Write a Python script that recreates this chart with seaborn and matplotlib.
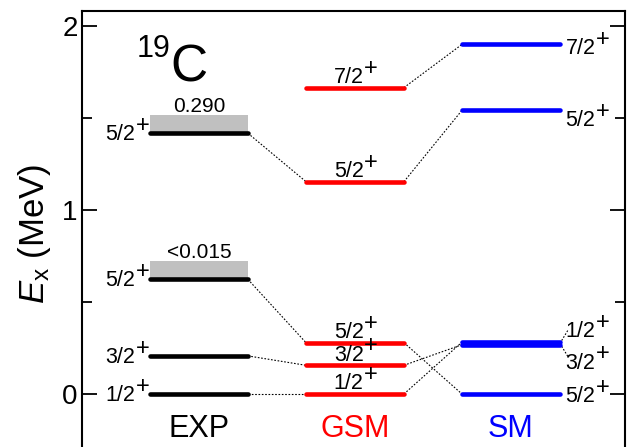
import numpy as np
import pandas as pd
import matplotlib
matplotlib.use('Agg')
import matplotlib.pyplot as plt
import seaborn as sns

# livelli (MeV)
models = ['EXP', 'GSM', 'SM']
exp_E = [0.0, 0.207, 0.623, 1.417]
exp_J = ['1/2', '3/2', '5/2', '5/2']
gsm_E = [0.0, 0.156, 0.279, 1.154, 1.665]
gsm_J = ['1/2', '3/2', '5/2', '5/2', '7/2']
sm_E = [0.0, 0.268, 0.282, 1.542, 1.900]
sm_J = ['5/2', '3/2', '1/2', '5/2', '7/2']

# larghezze sperimentali (box grigi)
box_level = [2, 3]
box_height = [0.10, 0.10]
box_text = ['<0.015', '0.290']

# collegamenti (indice livello sinistro -> indice livello destro)
links_exp_gsm = [(0, 0), (1, 1), (2, 2), (3, 3)]
links_gsm_sm = [(0, 2), (1, 1), (2, 0), (3, 3), (4, 4)]

colors = {'EXP': 'black', 'GSM': '#ff0000', 'SM': '#0000ff'}
HW = 0.314  # mezza larghezza di un livello

sns.set_style('ticks', {'axes.edgecolor': 'black', 'text.color': 'black',
                        'xtick.color': 'black', 'ytick.color': 'black',
                        'axes.labelcolor': 'black'})
plt.rcParams['font.family'] = ['Liberation Sans', 'DejaVu Sans']
plt.rcParams['mathtext.fontset'] = 'custom'
plt.rcParams['mathtext.rm'] = 'Liberation Sans'
plt.rcParams['mathtext.it'] = 'Liberation Sans:italic'

energies = {'EXP': exp_E, 'GSM': gsm_E, 'SM': sm_E}

# segmenti dei livelli
rows = []
for ci, m in enumerate(models):
    for li, e in enumerate(energies[m]):
        rid = f'{m}{li}'
        rows.append({'id': rid, 'model': m, 'x': ci - HW, 'E': e})
        rows.append({'id': rid, 'model': m, 'x': ci + HW, 'E': e})
lev = pd.DataFrame(rows)

# linee tratteggiate di collegamento
crow = []
for k, (a, b) in enumerate(links_exp_gsm):
    crow.append({'id': f'a{k}', 'x': 0 + HW, 'E': exp_E[a]})
    crow.append({'id': f'a{k}', 'x': 1 - HW, 'E': gsm_E[b]})
for k, (a, b) in enumerate(links_gsm_sm):
    crow.append({'id': f'b{k}', 'x': 1 + HW, 'E': gsm_E[a]})
    crow.append({'id': f'b{k}', 'x': 2 - HW, 'E': sm_E[b]})
con = pd.DataFrame(crow)

fig = plt.figure(figsize=(6.34, 4.47), dpi=100)
ax = fig.add_axes([0.1293, 0.0, 0.8565, 0.9754])

# box grigi
for li, h, t in zip(box_level, box_height, box_text):
    e = exp_E[li]
    ax.fill_between([-HW, HW], e, e + h, color='#c0c0c0', lw=0, zorder=1)
    ax.text(0, e + h + 0.016, t, ha='center', va='baseline', fontsize=15)

sns.lineplot(data=con, x='x', y='E', units='id', estimator=None, sort=False,
             color='black', lw=0.8, dashes=False, linestyle=(0, (1.5, 1.5)),
             legend=False, ax=ax, zorder=2)
sns.lineplot(data=lev, x='x', y='E', hue='model', units='id', estimator=None,
             sort=False, palette=colors, lw=3.3, solid_capstyle='round',
             legend=False, ax=ax, zorder=3)


def spin_label(x, y, j, ha):
    # "j" + un "+" grande in apice, come nell'originale
    t = ax.text(x, y, j, ha=ha, va='baseline', fontsize=15.5)
    ax.annotate('+', xy=(1, 0), xycoords=t, xytext=(0.3, 9.6),
                textcoords='offset points', ha='left', va='baseline', fontsize=17)


# EXP: etichette a sinistra
for e, j in zip(exp_E, exp_J):
    spin_label(-0.41, e - 0.038, j, 'right')
# GSM: etichette sopra
for e, j in zip(gsm_E, gsm_J):
    spin_label(1.0 - 0.04, e + 0.025, j, 'center')
# SM: etichette a destra
sm_off = [-0.043, -0.13, 0.027, -0.087, -0.054]
for k, (e, j) in enumerate(zip(sm_E, sm_J)):
    spin_label(2 + HW + 0.035, e + sm_off[k], j, 'left')
# piccoli collegamenti per i livelli quasi degeneri
mid = 0.5 * (sm_E[1] + sm_E[2])
ax.plot([2 + HW, 2 + HW + 0.05], [mid, mid + 0.07], color='black', lw=0.8,
        linestyle=(0, (1.5, 1.5)))
ax.plot([2 + HW, 2 + HW + 0.05], [mid, mid - 0.07], color='black', lw=0.8,
        linestyle=(0, (1.5, 1.5)))

for ci, m in enumerate(models):
    ax.text(ci, -0.234, m, ha='center', va='baseline', fontsize=22, color=colors[m])

ax.text(0.101, 0.894, '19', transform=ax.transAxes, fontsize=22, va='baseline')
ax.text(0.162, 0.839, 'C', transform=ax.transAxes, fontsize=37, va='baseline')

ax.set_xlim(-0.75, 2.731)
ax.set_ylim(-0.288, 2.0815)
ax.set_xticks([])
ax.set_xlabel('')
ax.set_yticks([0, 1, 2])
ax.set_yticks([0.5, 1.5], minor=True)
ax.set_yticklabels(['0', '1', '2'], fontsize=20)
ax.tick_params(axis='y', which='major', direction='in', length=11, width=1.3,
               right=True, pad=3)
ax.tick_params(axis='y', which='minor', direction='in', length=7, width=1.3,
               right=True)
ax.set_ylabel('$E_{\\rm x}$ (MeV)', fontsize=25)
ax.yaxis.label.set_va('center')
ax.yaxis.set_label_coords(-0.088, 0.489)

for s in ['left', 'right', 'top']:
    ax.spines[s].set_linewidth(1.5)
ax.spines['bottom'].set_visible(False)

fig.savefig('out.png', dpi=100)
